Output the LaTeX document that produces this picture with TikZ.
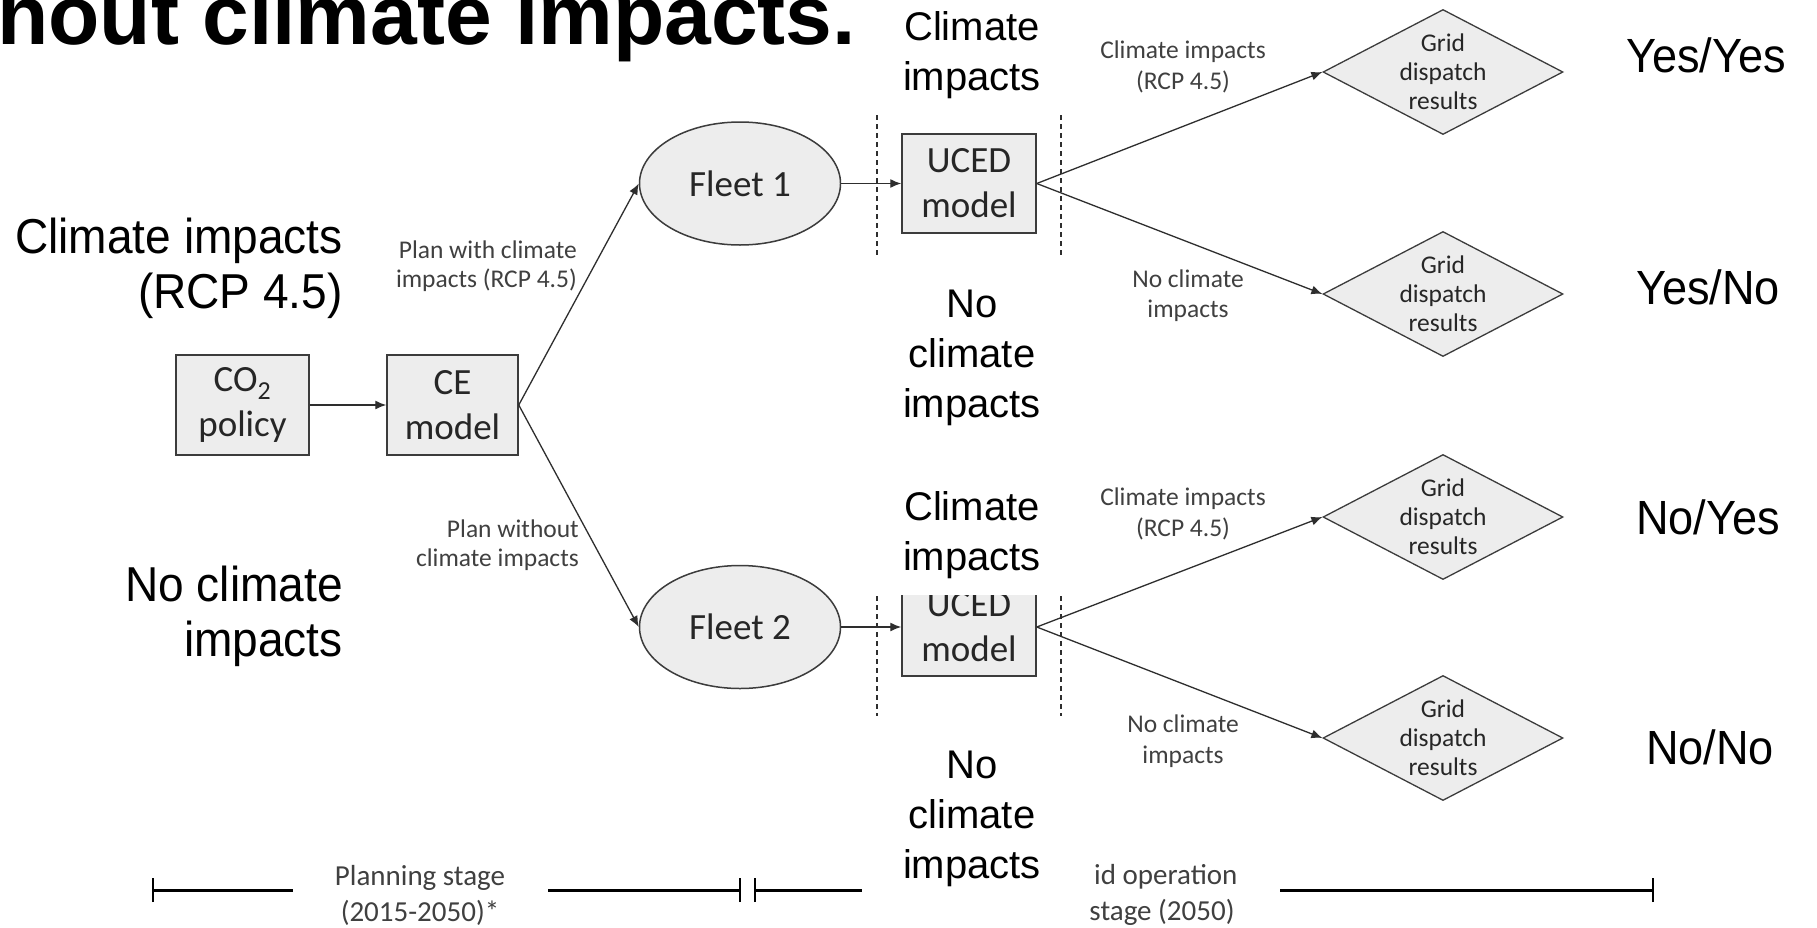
\documentclass[tikz,border=0pt]{standalone}
\usepackage{fontspec}
\setmainfont{Carlito}
\newfontfamily\arialf{Liberation Sans}
\newfontfamily\arialn[FakeStretch=0.94]{Liberation Sans}
\usetikzlibrary{shapes.geometric,arrows.meta}
\definecolor{boxfill}{HTML}{EDEDED}
\definecolor{boxline}{HTML}{3C3C3C}
\definecolor{lnc}{HTML}{2E2E2E}
\definecolor{txtgray}{HTML}{404040}
\definecolor{txtdark}{HTML}{262626}
\tikzset{
  titlef/.style={font=\arialf\bfseries\fontsize{84pt}{90pt}\selectfont, inner sep=0pt, text=black},
  bigA/.style={font=\arialn\fontsize{49pt}{55pt}\selectfont, align=right, inner sep=0pt, text=black},
  bigB/.style={font=\arialf\fontsize{40pt}{50pt}\selectfont, align=center, inner sep=0pt, text=black},
  bigC/.style={font=\arialn\fontsize{48pt}{50pt}\selectfont, align=center, inner sep=0pt, text=black},
  bigW/.style={bigB, fill=white, inner xsep=25pt, inner ysep=16.5pt},
  boxnode/.style={draw=boxline, fill=boxfill, line width=1.5pt, inner sep=0pt,
    align=center, font=\fontsize{37pt}{45pt}\selectfont, text=txtdark},
  fleetnode/.style={ellipse, draw=boxline, fill=boxfill, line width=1.5pt, inner sep=0pt,
    minimum width=201pt, minimum height=123pt, font=\fontsize{37pt}{45pt}\selectfont, text=txtdark},
  gdiam/.style={diamond, draw=boxline, fill=boxfill, line width=1.3pt, inner sep=0pt,
    minimum width=240pt, minimum height=125pt},
  dtext/.style={font=\fontsize{25.5pt}{29pt}\selectfont, align=center, inner sep=0pt, text=txtdark},
  elabel/.style={font=\fontsize{25.5pt}{30.5pt}\selectfont, align=center, inner sep=0pt, text=txtgray},
  plabel/.style={font=\fontsize{25.5pt}{29pt}\selectfont, align=right, inner sep=0pt, text=txtgray, anchor=east},
  tlabel/.style={font=\fontsize{29pt}{36pt}\selectfont, align=center, inner sep=0pt, text=txtgray},
  conn/.style={draw=lnc, line width=1.3pt, -{Latex[length=11pt,width=9pt]}},
  dashv/.style={draw=lnc, line width=1.2pt, dash pattern=on 5pt off 4pt},
  tline/.style={draw=black, line width=3pt},
  ttick/.style={draw=black, line width=1.8pt},
}
\begin{document}
\begin{tikzpicture}[x=1pt,y=-1pt]
\useasboundingbox (0,0) rectangle (1817,927);
\clip (0,0) rectangle (1817,927);
\fill[white] (0,0) rectangle (1817,927);

% title (cut off at the top)
\node[titlef, anchor=base west] (title) at (-3,44) {hout climate impacts.};

% left scenario labels
\node[bigA, anchor=east] (lci) at (343,268.5) {Climate impacts\\(RCP 4.5)};
\node[bigA, anchor=east] (lnci) at (343,616) {No climate\\impacts};

% planning boxes
\node[boxnode, minimum width=133pt, minimum height=100pt] (co2) at (242.5,405) {CO\textsubscript{2}\\policy};
\node[boxnode, minimum width=131pt, minimum height=100pt] (ce) at (452.5,405) {CE\\model};

% fleets
\node[fleetnode] (f1) at (740,183.5) {Fleet 1};
\node[fleetnode] (f2) at (740,627) {Fleet 2};

% UCED models
\node[boxnode, minimum width=134pt, minimum height=99pt] (u1) at (969,183.5) {UCED\\model};
\node[boxnode, minimum width=134pt, minimum height=98pt] (u2) at (969,627) {UCED\\model};

% dashed separators
\coordinate (da1) at (877,115); \coordinate (da2) at (877,258);
\coordinate (db1) at (1061,115); \coordinate (db2) at (1061,258);
\coordinate (dc1) at (877,596); \coordinate (dc2) at (877,716);
\coordinate (dd1) at (1061,596); \coordinate (dd2) at (1061,716);
\draw[dashv] (da1) -- (da2);
\draw[dashv] (db1) -- (db2);
\draw[dashv] (dc1) -- (dc2);
\draw[dashv] (dd1) -- (dd2);

% diamonds
\node[gdiam] (d1) at (1443,72) {};
\node[gdiam] (d2) at (1443,294) {};
\node[gdiam] (d3) at (1443,517) {};
\node[gdiam] (d4) at (1443,738) {};
\node[dtext] (d1t) at (d1) {Grid\\dispatch\\results};
\node[dtext] (d2t) at (d2) {Grid\\dispatch\\results};
\node[dtext] (d3t) at (d3) {Grid\\dispatch\\results};
\node[dtext] (d4t) at (d4) {Grid\\dispatch\\results};

% connectors
\draw[conn] (co2.east) -- (ce.west);
\draw[conn] (ce.east) -- (f1.west);
\draw[conn] (ce.east) -- (f2.west);
\draw[conn] (f1.east) -- (u1.west);
\draw[conn] (f2.east) -- (u2.west);
\draw[conn] (u1.east) -- (d1.west);
\draw[conn] (u1.east) -- (d2.west);
\draw[conn] (u2.east) -- (d3.west);
\draw[conn] (u2.east) -- (d4.west);

% connector labels
\node[plabel] (p1) at (577,266) {Plan with climate\\impacts (RCP 4.5)};
\node[plabel] (p2) at (579,545) {Plan without\\climate impacts};
\node[elabel] (e1) at (1183,67) {Climate impacts\\(RCP 4.5)};
\node[elabel] (e2) at (1188,295.5) {No climate\\impacts};
\node[elabel] (e3) at (1183,514) {Climate impacts\\(RCP 4.5)};
\node[elabel] (e4) at (1183,741) {No climate\\impacts};

% central scenario labels (white backed)
\node[bigW] (c1) at (972,54.7) {Climate\\impacts};
\node[bigW] (c2) at (972,357.7) {No\\climate\\impacts};
\node[bigW] (c3) at (972,534.7) {Climate\\impacts};
\node[bigW, inner xsep=12pt] (c4) at (972,818.7) {No\\climate\\impacts};

% outcome labels
\node[bigC, anchor=base] (yy) at (1706,72) {Yes/Yes};
\node[bigC, anchor=base] (yn) at (1708,304) {Yes/No};
\node[bigC, anchor=base] (ny) at (1708,534) {No/Yes};
\node[bigC, anchor=base] (nn) at (1710,764) {No/No};

% timeline
\coordinate (t1a) at (153,890); \coordinate (t1b) at (293,890);
\coordinate (t2a) at (548,890); \coordinate (t2b) at (740,890);
\coordinate (t3a) at (755,890); \coordinate (t3b) at (862,890);
\coordinate (t4a) at (1280,890); \coordinate (t4b) at (1653,890);
\draw[tline] (t1a) -- (t1b);
\draw[tline] (t2a) -- (t2b);
\draw[tline] (t3a) -- (t3b);
\draw[tline] (t4a) -- (t4b);
\draw[ttick] ([yshift=-12pt]t1a) -- ([yshift=12pt]t1a);
\draw[ttick] ([yshift=-12pt]t2b) -- ([yshift=12pt]t2b);
\draw[ttick] ([yshift=-12pt]t3a) -- ([yshift=12pt]t3a);
\draw[ttick] ([yshift=-12pt]t4b) -- ([yshift=12pt]t4b);
\node[tlabel] (plan) at (420,895) {Planning stage\\(2015-2050)*};
\node[tlabel, anchor=base west] (gop1) at (1094,884) {id operation};
\node[tlabel, anchor=base] (gop2) at (1162,920) {stage (2050)};
\end{tikzpicture}
\end{document}
